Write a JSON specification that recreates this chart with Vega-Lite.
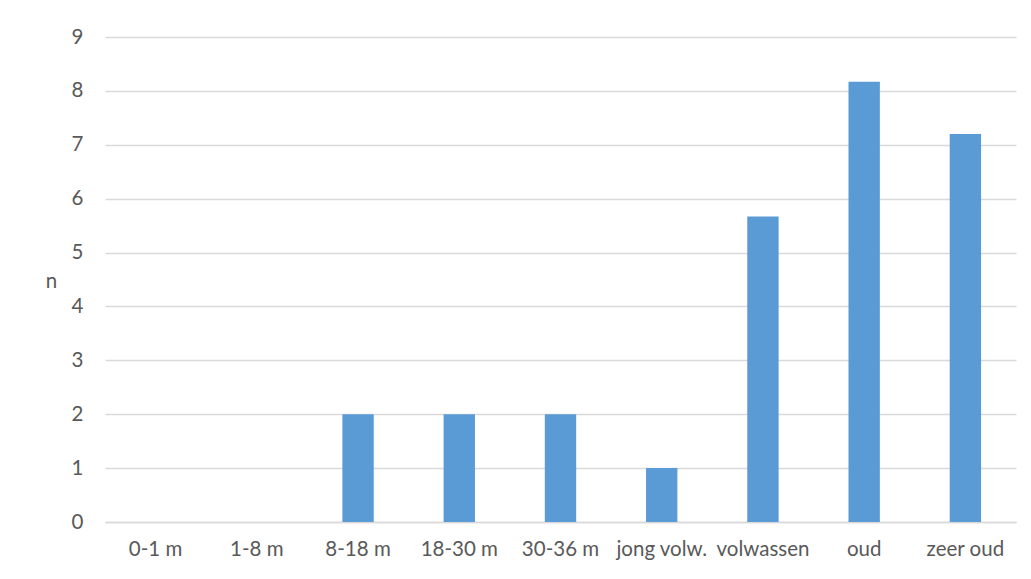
{
  "$schema": "https://vega.github.io/schema/vega-lite/v6.json",
  "width": 911,
  "height": 485,
  "autosize": {"type": "none"},
  "padding": {"left": 105, "top": 37, "right": 15, "bottom": 57},
  "background": "white",
  "data": {
    "values": [
      {"groep": "0-1 m", "n": 0},
      {"groep": "1-8 m", "n": 0},
      {"groep": "8-18 m", "n": 2},
      {"groep": "18-30 m", "n": 2},
      {"groep": "30-36 m", "n": 2},
      {"groep": "jong volw.", "n": 1},
      {"groep": "volwassen", "n": 5.67},
      {"groep": "oud", "n": 8.17},
      {"groep": "zeer oud", "n": 7.2}
    ]
  },
  "mark": {"type": "bar", "color": "#5b9bd5"},
  "encoding": {
    "x": {
      "field": "groep",
      "type": "nominal",
      "sort": null,
      "scale": {"paddingInner": 0.69, "paddingOuter": 0.345},
      "axis": {
        "title": null,
        "labelAngle": 0,
        "labelFont": "Lato",
        "labelFontSize": 20.5,
        "labelColor": "#595959",
        "labelPadding": 17,
        "labelOverlap": false,
        "ticks": false,
        "domainColor": "#d9d9d9",
        "domainWidth": 1.5,
        "grid": false
      }
    },
    "y": {
      "field": "n",
      "type": "quantitative",
      "scale": {"domain": [0, 9], "nice": false},
      "axis": {
        "title": "n",
        "titleAngle": 0,
        "titleX": -54,
        "titleY": 244,
        "titleFont": "Lato",
        "titleFontSize": 20.5,
        "titleFontWeight": "normal",
        "titleColor": "#595959",
        "titleAlign": "center",
        "titleBaseline": "middle",
        "values": [0, 1, 2, 3, 4, 5, 6, 7, 8, 9],
        "labelFont": "Lato",
        "labelFontSize": 20.5,
        "labelColor": "#595959",
        "labelPadding": 22,
        "ticks": false,
        "domain": false,
        "gridColor": "#d9d9d9",
        "gridWidth": 1.5
      }
    }
  },
  "config": {"view": {"stroke": null}}
}
